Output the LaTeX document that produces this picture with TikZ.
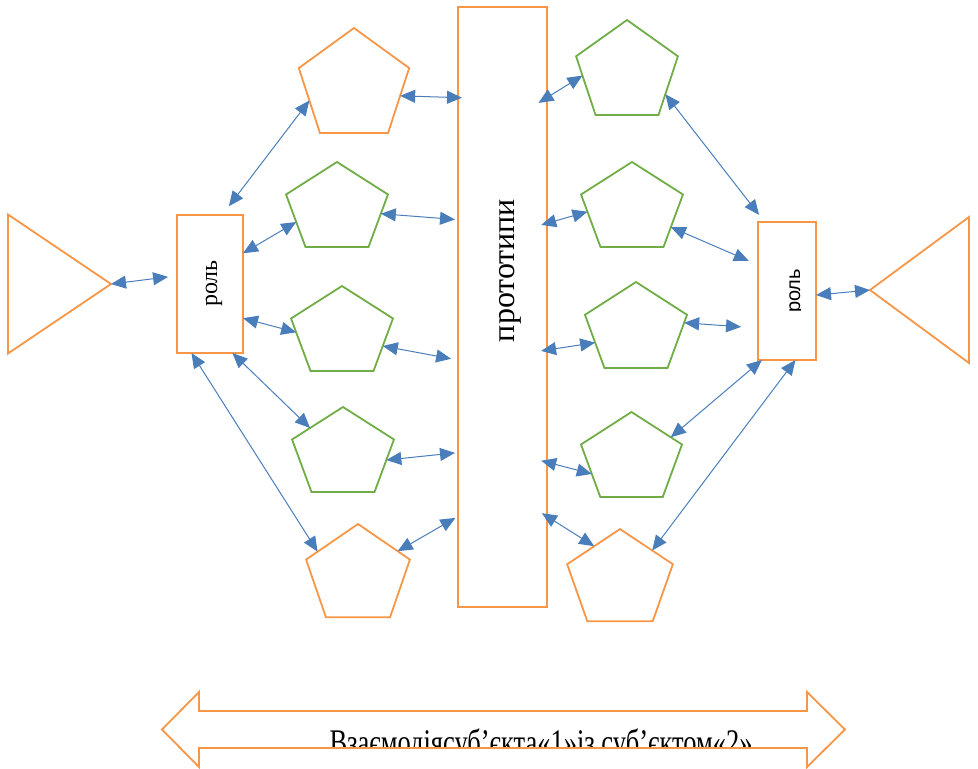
\documentclass[tikz,border=0pt]{standalone}
\usepackage{fontspec}
\usepackage{graphicx}
\setmainfont{Liberation Serif}
\newfontfamily\rolsans{Liberation Sans}
\usetikzlibrary{shapes.geometric,arrows.meta}

\definecolor{orng}{HTML}{F79646}
\definecolor{grn}{HTML}{70AD47}
\definecolor{blu}{HTML}{4A7EBB}

\tikzset{
  pent/.style={regular polygon, regular polygon sides=5, draw=#1,
    line width=1.8pt, inner sep=0pt, outer sep=0pt},
  pent/.default=grn,
  rolbox/.style={draw=orng, line width=1.8pt, inner sep=0pt, outer sep=0pt},
  tri/.style={isosceles triangle, isosceles triangle stretches, draw=orng,
    line width=1.8pt, inner sep=0pt, outer sep=0pt},
  arr/.style={{Triangle[length=15pt,width=13pt]}-{Triangle[length=15pt,width=13pt]},
    draw=blu, line width=1pt},
}

\begin{document}
\begin{tikzpicture}[x=1pt,y=-1pt]
  \useasboundingbox (0,0) rectangle (978,769);

  %% triangles and the two roles
  \node[tri, minimum height=103pt, minimum width=139pt, anchor=apex] (ltri) at (111,284) {};
  \node[tri, shape border rotate=180, minimum height=99pt, minimum width=146pt,
    anchor=apex] (rtri) at (870,290) {};
  \node[rolbox, minimum width=66pt, minimum height=138pt] (lrol) at (210,284) {};
  \node[rolbox, minimum width=58pt, minimum height=138pt] (rrol) at (787,291) {};
  \node[rolbox, minimum width=89pt, minimum height=600pt] (proto) at (502.5,307) {};

  \node[rotate=90, anchor=base, inner sep=0pt, font=\fontsize{24}{28}\selectfont]
    (lrollbl) at (217,283.5) {роль};
  \begin{scope}
    \clip (758,222) rectangle (800,360);
    \node[rotate=90, anchor=base, inner sep=0pt, font=\rolsans\fontsize{20}{24}\selectfont]
      (rrollbl) at (800,291) {роль};
  \end{scope}
  \node[rotate=90, anchor=base, inner sep=0pt, font=\fontsize{32}{38}\selectfont]
    (protolbl) at (514,270.5) {прототипи};

  %% pentagons, left column
  \node[pent=orng, minimum size=116pt] (L1) at (354,86) {};
  \node[pent, minimum size=94pt, xscale=1.14] (L2) at (337,209) {};
  \node[pent, minimum size=94pt, xscale=1.14] (L3) at (342,333) {};
  \node[pent, minimum size=94pt, xscale=1.14] (L4) at (343,454) {};
  \node[pent=orng, minimum size=103pt, xscale=1.06] (L5) at (358,575.5) {};

  %% pentagons, right column
  \node[pent, minimum size=105pt, xscale=1.02] (R1) at (627,72.5) {};
  \node[pent, minimum size=94pt, xscale=1.14] (R2) at (632,209) {};
  \node[pent, minimum size=95pt, xscale=1.13] (R3) at (636,329.5) {};
  \node[pent, minimum size=94pt, xscale=1.13] (R4) at (631.5,459) {};
  \node[pent=orng, minimum size=102pt, xscale=1.09] (R5) at (620,580) {};

  %% connectors
  \draw[arr, shorten >=9pt] (ltri.apex) -- (lrol.166);   %% tri -> role
  \draw[arr, shorten <=11pt] (lrol.80) -- (L1.198);
  \draw[arr] (lrol.43) -- (L2.200);
  \draw[arr] (lrol.-46) -- (L3.179);
  \draw[arr] (lrol.-72) -- (L4.138);
  \draw[arr] (lrol.-105) -- (L5.148);

  \draw[arr, shorten >=-4pt] (L1.-12) -- (proto.102.5);   %% left -> prototypes
  \draw[arr, shorten >=3pt] (L2.-7) -- (proto.117.4);
  \draw[arr, shorten >=7pt] (L3.-20) -- (proto.230.5);
  \draw[arr, shorten >=3pt] (L4.-9) -- (proto.253.2);
  \draw[arr, shorten >=3pt] (L5.33) -- (proto.258.3);

  \draw[arr, shorten <=-10pt] (proto.78) -- (R1.184);     %% prototypes -> right
  \draw[arr, shorten <=-6pt] (proto.62.6) -- (R2.184);
  \draw[arr, shorten <=-6pt] (proto.-44.7) -- (R3.200);
  \draw[arr, shorten <=-6pt] (proto.-74.5) -- (R4.203);
  \draw[arr, shorten <=-6pt] (proto.-78.2) -- (R5.125);

  \draw[arr, shorten >=9pt] (R1.-30) -- (rrol.108);      %% right -> role
  \draw[arr, shorten >=10pt] (R2.-28) -- (rrol.138);
  \draw[arr, shorten >=17pt] (R3.9) -- (rrol.232);
  \draw[arr] (R4.32) -- (rrol.250);
  \draw[arr] (R5.45) -- (rrol.-83);
  \draw[arr] (rrol.-8) -- (rtri.apex);    %% role -> tri

  %% big double arrow at the bottom
  \draw[orng, line width=1.8pt]
    (162,729.5) -- (199,692) -- (199,711) -- (807,711) -- (807,692)
    -- (845,729.5) -- (807,767) -- (807,748) -- (199,748) -- (199,767) -- cycle;
  \begin{scope}
    \clip (199,712) rectangle (807,746);
    \node[anchor=base, inner sep=0pt, font=\fontsize{36}{42}\selectfont]
      (intertxt) at (541,754) {\resizebox{423pt}{\height}{Взаємодіясуб’єкта«1»із суб’єктом«2»}};
  \end{scope}

\end{tikzpicture}
\end{document}
